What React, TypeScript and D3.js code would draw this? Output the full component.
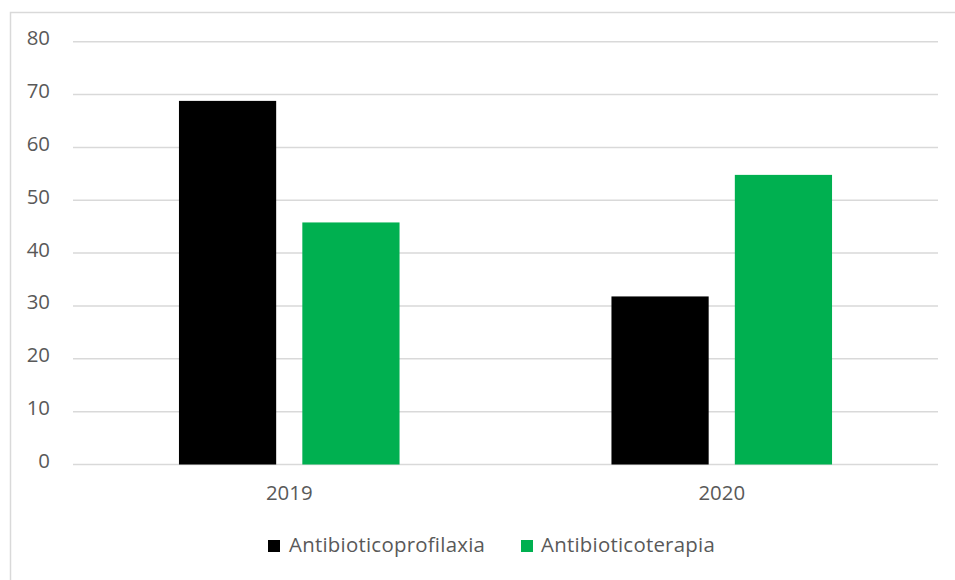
import React from "react";
import * as d3 from "d3";

const categories = ["2019", "2020"];
const seriesNames = ["Antibioticoprofilaxia", "Antibioticoterapia"];
const seriesColors = ["#000000", "#00b050"];
const profilaxia = [68.8, 31.8];
const terapia = [45.8, 54.8];
const yTicks = [0, 10, 20, 30, 40, 50, 60, 70, 80];

const W = 955;
const H = 580;
const plotLeft = 73;
const plotRight = 938;
const yTop = 41.7;
const yBottom = 464.5;
const FONT = "'Open Sans', 'DejaVu Sans', sans-serif";
const TEXT = "#595959";

export default function App() {
  const values = [profilaxia, terapia];
  const x0 = d3
    .scaleBand<string>()
    .domain(categories)
    .range([plotLeft, plotRight])
    .paddingInner(0.49)
    .paddingOuter(0.245);
  const x1 = d3
    .scaleBand<string>()
    .domain(seriesNames)
    .range([0, x0.bandwidth()])
    .paddingInner(0.212);
  const y = d3.scaleLinear().domain([0, 80]).range([yBottom, yTop]);

  const legendItems = [
    { name: seriesNames[0], color: seriesColors[0], sx: 268, tx: 289 },
    { name: seriesNames[1], color: seriesColors[1], sx: 521, tx: 541 },
  ];

  return (
    <svg
      width={W}
      height={H}
      style={{ position: "absolute", left: 0, top: 0, display: "block" }}
      fontFamily={FONT}
    >
      <rect x={0} y={0} width={W} height={H} fill="#ffffff" />
      <rect
        x={10.5}
        y={12.5}
        width={W + 20}
        height={H + 20}
        fill="#ffffff"
        stroke="#d9d9d9"
        strokeWidth={1.5}
      />
      {yTicks.map((t) => (
        <g key={t}>
          <line
            x1={plotLeft}
            x2={plotRight}
            y1={y(t)}
            y2={y(t)}
            stroke="#d9d9d9"
            strokeWidth={1.5}
          />
          <text
            x={50}
            y={y(t) + 3.5}
            textAnchor="end"
            fontSize={20.4}
            fill={TEXT}
          >
            {t}
          </text>
        </g>
      ))}
      {categories.map((c, ci) => (
        <g key={c}>
          {seriesNames.map((s, si) => (
            <rect
              key={s}
              x={(x0(c) as number) + (x1(s) as number)}
              y={y(values[si][ci])}
              width={x1.bandwidth()}
              height={y(0) - y(values[si][ci])}
              fill={seriesColors[si]}
            />
          ))}
          <text
            x={(x0(c) as number) + x0.bandwidth() / 2}
            y={500}
            textAnchor="middle"
            fontSize={20.4}
            fill={TEXT}
          >
            {c}
          </text>
        </g>
      ))}
      {legendItems.map((l) => (
        <g key={l.name}>
          <rect x={l.sx} y={540} width={12} height={12} fill={l.color} />
          <text
            x={l.tx}
            y={552}
            fontSize={20.4}
            letterSpacing={0.25}
            fill={TEXT}
          >
            {l.name}
          </text>
        </g>
      ))}
    </svg>
  );
}
